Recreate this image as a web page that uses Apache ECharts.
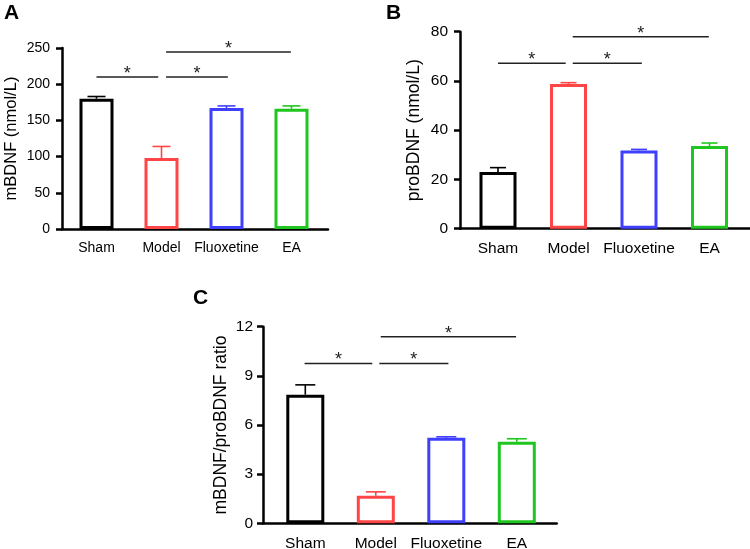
<!DOCTYPE html>
<html>
<head>
<meta charset="utf-8">
<script src="https://cdn.jsdelivr.net/npm/echarts@6/dist/echarts.min.js"></script>
<style>html,body{margin:0;padding:0;background:#fff}#c{width:750px;height:549px}</style>
</head>
<body>
<div id="c"></div>
<script>
// ---- data ----
var categories = ['Sham', 'Model', 'Fluoxetine', 'EA'];
var mBDNF = [180, 98, 167, 166];
var mBDNFUpper = [183, 114, 170, 170];
var proBDNF = [23, 58.8, 31.8, 33.6];
var proBDNFUpper = [24.8, 59.3, 32.2, 34.8];
var ratio = [7.85, 1.68, 5.22, 4.98];
var ratioUpper = [8.45, 1.92, 5.28, 5.16];
// significance brackets: [fromX, toX, y]
var sigA = [[0, 0.95, 210], [1.07, 2.02, 210], [1.07, 2.99, 244.5]];
var sigB = [[0, 0.96, 67.2], [1.06, 2.04, 67.2], [1.06, 2.99, 78]];
var sigC = [[-0.01, 0.95, 9.76], [1.05, 2.03, 9.76], [1.07, 2.99, 11.38]];
var ticksA = [0, 50, 100, 150, 200, 250];
var ticksB = [0, 20, 40, 60, 80];
var ticksC = [0, 3, 6, 9, 12];

var colors = ['#000000', '#FF4545', '#3F3FFF', '#1FC61F'];
var FONT = "'Liberation Sans', Arial, Helvetica, sans-serif";

var chart = echarts.init(document.getElementById('c'), null, {renderer: 'canvas'});

function xAxisCfg(idx, min, max, fs) {
  return {
    type: 'value', gridIndex: idx, min: min, max: max,
    splitLine: {show: false},
    axisLine: {show: true, onZero: false, lineStyle: {color: '#000', width: 2.5}},
    axisTick: {show: false},
    axisLabel: {
      customValues: [0, 1, 2, 3],
      formatter: function (v) { return categories[Math.round(v)]; },
      color: '#000', fontSize: fs, fontFamily: FONT, margin: 12
    }
  };
}
function yAxisCfg(idx, ticks, name, fs, nfs, gap, margin) {
  return {
    type: 'value', gridIndex: idx, min: ticks[0], max: ticks[ticks.length - 1],
    interval: ticks[1] - ticks[0],
    name: name, nameLocation: 'middle', nameGap: gap, nameRotate: 90,
    nameTextStyle: {color: '#000', fontSize: nfs, fontFamily: FONT},
    splitLine: {show: false},
    axisLine: {show: true, onZero: false, lineStyle: {color: '#000', width: 2.5}},
    axisTick: {show: true, length: 6, lineStyle: {color: '#000', width: 2.5}},
    axisLabel: {color: '#000', fontSize: fs, fontFamily: FONT, margin: margin}
  };
}
function barSeries(idx, vals, bw) {
  return {
    type: 'bar', xAxisIndex: idx, yAxisIndex: idx, barWidth: bw, z: 2,
    data: vals.map(function (v, i) {
      return {value: [i, v], itemStyle: {color: '#fff', borderColor: colors[i], borderWidth: 3}};
    }),
    silent: true, animation: false
  };
}
function errSeries(idx, vals, upper, half) {
  return {
    type: 'custom', xAxisIndex: idx, yAxisIndex: idx, z: 3, silent: true, animation: false,
    data: vals.map(function (v, i) { return [i, v, upper[i]]; }),
    renderItem: function (params, api) {
      var i = params.dataIndex;
      var p0 = api.coord([api.value(0), api.value(1)]);
      var p1 = api.coord([api.value(0), api.value(2)]);
      var st = {stroke: colors[i], lineWidth: 1.6};
      return {type: 'group', children: [
        {type: 'line', shape: {x1: p0[0], y1: p0[1], x2: p1[0], y2: p1[1]}, style: st},
        {type: 'line', shape: {x1: p1[0] - half, y1: p1[1], x2: p1[0] + half, y2: p1[1]}, style: st}
      ]};
    }
  };
}
function sigSeries(idx, sig) {
  return {
    type: 'custom', xAxisIndex: idx, yAxisIndex: idx, z: 4, silent: true, animation: false,
    data: sig,
    renderItem: function (params, api) {
      var p1 = api.coord([api.value(0), api.value(2)]);
      var p2 = api.coord([api.value(1), api.value(2)]);
      return {type: 'group', children: [
        {type: 'line', shape: {x1: p1[0], y1: p1[1], x2: p2[0], y2: p1[1]}, style: {stroke: '#222', lineWidth: 1.5}},
        {type: 'text', style: {text: '*', x: (p1[0] + p2[0]) / 2, y: p1[1] - 3, align: 'center', verticalAlign: 'middle', font: '18px ' + FONT, fill: '#222'}}
      ]};
    }
  };
}

var option = {
  backgroundColor: '#fff',
  animation: false,
  grid: [
    {left: 62, top: 48, width: 266, height: 181, containLabel: false, outerBoundsMode: 'none'},
    {left: 460, top: 31.7, width: 290, height: 197, containLabel: false, outerBoundsMode: 'none'},
    {left: 263, top: 326.7, width: 293.7, height: 196.6, containLabel: false, outerBoundsMode: 'none'}
  ],
  xAxis: [
    xAxisCfg(0, -0.5308, 3.5615, 14),
    xAxisCfg(1, -0.539, 3.5745, 15.5),
    xAxisCfg(2, -0.6, 3.566, 15.5)
  ],
  yAxis: [
    yAxisCfg(0, ticksA, 'mBDNF (nmol/L)', 14, 16.5, 42, 12),
    yAxisCfg(1, ticksB, 'proBDNF (nmol/L)', 15.5, 17.5, 37, 12),
    yAxisCfg(2, ticksC, 'mBDNF/proBDNF ratio', 15.5, 17.5, 33, 10)
  ],
  graphic: [
    {type: 'text', left: 4, top: 3, style: {text: 'A', font: 'bold 21px ' + FONT, fill: '#000'}},
    {type: 'text', left: 386, top: 3, style: {text: 'B', font: 'bold 21px ' + FONT, fill: '#000'}},
    {type: 'text', left: 193, top: 288, style: {text: 'C', font: 'bold 21px ' + FONT, fill: '#000'}}
  ],
  series: [
    barSeries(0, mBDNF, 34), errSeries(0, mBDNF, mBDNFUpper, 9), sigSeries(0, sigA),
    barSeries(1, proBDNF, 37), errSeries(1, proBDNF, proBDNFUpper, 8), sigSeries(1, sigB),
    barSeries(2, ratio, 38), errSeries(2, ratio, ratioUpper, 10), sigSeries(2, sigC)
  ]
};
chart.setOption(option);
</script>
</body>
</html>
